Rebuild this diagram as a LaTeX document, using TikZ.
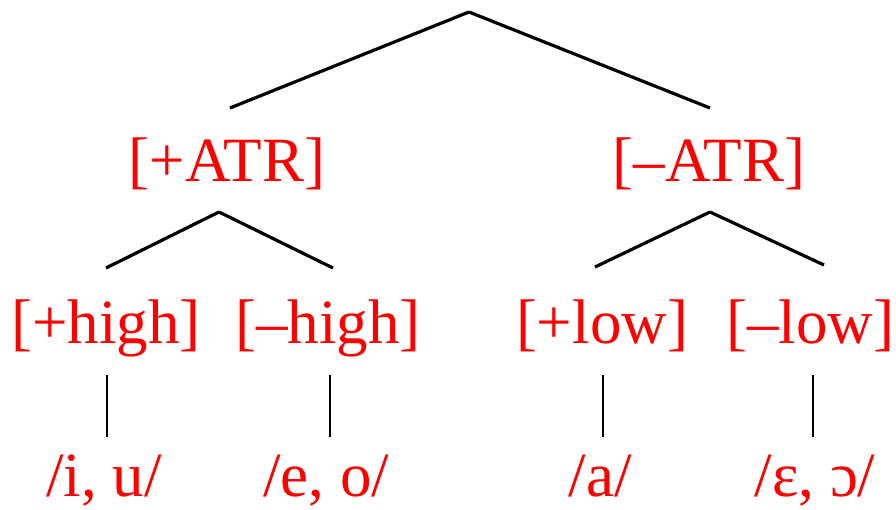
\documentclass[tikz,border=0pt]{standalone}
\usepackage{fontspec}
\setmainfont{Liberation Serif}
\begin{document}
\begin{tikzpicture}[x=1pt,y=-1pt,
  lab/.style={text=red,font=\fontsize{63}{72}\selectfont,inner sep=0pt,anchor=base},
  br/.style={line width=3.2pt,black},
  vr/.style={line width=1.8pt,black}]
\useasboundingbox (0,0) rectangle (896,510);
% coordinates
\coordinate (root) at (469,12);
\coordinate (rl) at (230,108);
\coordinate (rr) at (710,108);
\coordinate (pa) at (219,212);
\coordinate (pa1) at (106,268);
\coordinate (pa2) at (333,268);
\coordinate (ma) at (710,212);
\coordinate (ma1) at (595,267);
\coordinate (ma2) at (824,265);
\coordinate (v1t) at (107,375); \coordinate (v1b) at (107,437);
\coordinate (v2t) at (330,375); \coordinate (v2b) at (330,437);
\coordinate (v3t) at (603,375); \coordinate (v3b) at (603,437);
\coordinate (v4t) at (813,375); \coordinate (v4b) at (813,437);
% labels
\node[lab] (patr) at (227,182) {[+ATR]};
\node[lab] (matr) at (709,182) {[–ATR]};
\node[lab] (phigh) at (106,343) {[+high]};
\node[lab] (mhigh) at (328,343) {[–high]};
\node[lab] (plow) at (602,343) {[+low]};
\node[lab] (mlow) at (810,343) {[–low]};
\node[lab] (iu) at (104,496) {/i, u/};
\node[lab] (eo) at (326,496) {/e, o/};
\node[lab] (a) at (600,496) {/a/};
\node[lab] (eps) at (815,496) {/ɛ, ɔ/};
% branches
\draw[br] (root) -- (rl);
\draw[br] (root) -- (rr);
\draw[br] (pa) -- (pa1);
\draw[br] (pa) -- (pa2);
\draw[br] (ma) -- (ma1);
\draw[br] (ma) -- (ma2);
\draw[vr] (v1t) -- (v1b);
\draw[vr] (v2t) -- (v2b);
\draw[vr] (v3t) -- (v3b);
\draw[vr] (v4t) -- (v4b);
\end{tikzpicture}
\end{document}
